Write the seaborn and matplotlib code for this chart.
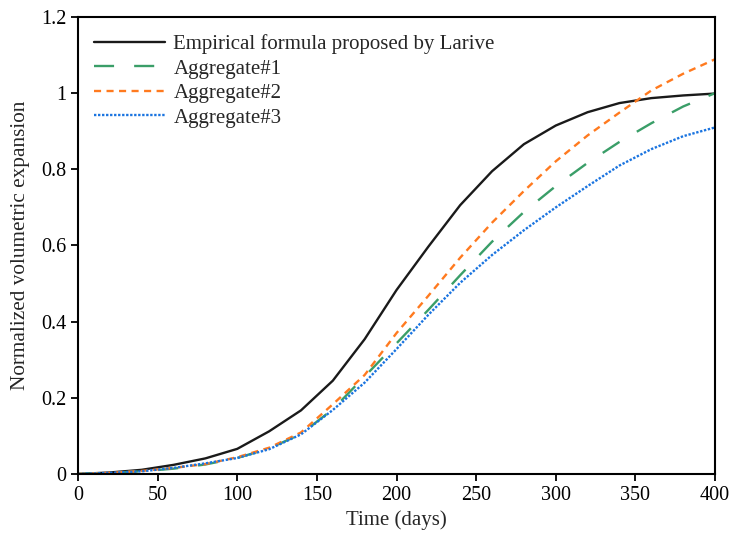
import numpy as np
import pandas as pd
import matplotlib
matplotlib.use("Agg")
import matplotlib.pyplot as plt
import seaborn as sns
from matplotlib.ticker import FuncFormatter

days = [0, 20, 40, 60, 80, 100, 120, 140, 160, 180, 200, 220, 240, 260, 280, 300, 320, 340, 360, 380, 400]
larive = [0, 0.004, 0.011, 0.024, 0.041, 0.066, 0.112, 0.167, 0.245, 0.354, 0.483, 0.597, 0.706, 0.795, 0.866, 0.915, 0.95, 0.974, 0.987, 0.994, 0.999]
agg1 = [0, 0.003, 0.007, 0.014, 0.025, 0.042, 0.067, 0.105, 0.17, 0.256, 0.343, 0.431, 0.522, 0.61, 0.688, 0.756, 0.817, 0.872, 0.921, 0.965, 1.0]
agg2 = [0, 0.003, 0.008, 0.016, 0.026, 0.044, 0.069, 0.109, 0.183, 0.26, 0.37, 0.468, 0.568, 0.66, 0.743, 0.821, 0.889, 0.949, 1.007, 1.051, 1.089]
agg3 = [0, 0.003, 0.007, 0.016, 0.028, 0.042, 0.065, 0.104, 0.168, 0.24, 0.328, 0.418, 0.502, 0.575, 0.64, 0.70, 0.756, 0.81, 0.853, 0.887, 0.91]

labels = ["Empirical formula proposed by Larive", "Aggregate#1", "Aggregate#2", "Aggregate#3"]
colors = ["#1a1a1a", "#3a9e68", "#ff7a1f", "#1a74e0"]
styles = ["-", (0, (8.5, 8.5)), (0, (3, 2.3)), (0, (1, 0.7))]

sns.set_style("ticks")
plt.rcParams["font.family"] = ["Liberation Serif", "DejaVu Serif"]

fig = plt.figure(figsize=(7.31, 5.39), dpi=100)
ax = fig.add_axes([78 / 731, 1 - 474 / 539, (715 - 78) / 731, (474 - 17) / 539])

series = [larive, agg1, agg2, agg3]
for lab, vals, c, ls in zip(labels, series, colors, styles):
    df = pd.DataFrame({"t": days, "v": vals})
    sns.lineplot(data=df, x="t", y="v", ax=ax, color=c, linestyle=ls, lw=1.7, label=lab)

ax.set_xlim(0, 400)
ax.set_ylim(0, 1.2)
ax.set_xticks(np.arange(0, 401, 50))
ax.set_yticks(np.arange(0, 1.21, 0.2))
ax.yaxis.set_major_formatter(FuncFormatter(lambda v, p: "%g" % round(v, 2)))
ax.set_xlabel("Time (days)", fontsize=15, labelpad=4)
ax.set_ylabel("Normalized volumetric expansion", fontsize=15.3, labelpad=8)
ax.tick_params(axis="both", direction="out", length=5, width=1.3, labelsize=14.5, colors="black")
for s in ax.spines.values():
    s.set_visible(True)
    s.set_linewidth(1.5)
    s.set_color("black")

leg = ax.legend(loc="upper left", bbox_to_anchor=(0.006, 0.99), frameon=False, fontsize=15,
                handlelength=3.4, handletextpad=0.4, labelspacing=0.24, borderaxespad=0.2)

fig.savefig("out.png", dpi=100)
